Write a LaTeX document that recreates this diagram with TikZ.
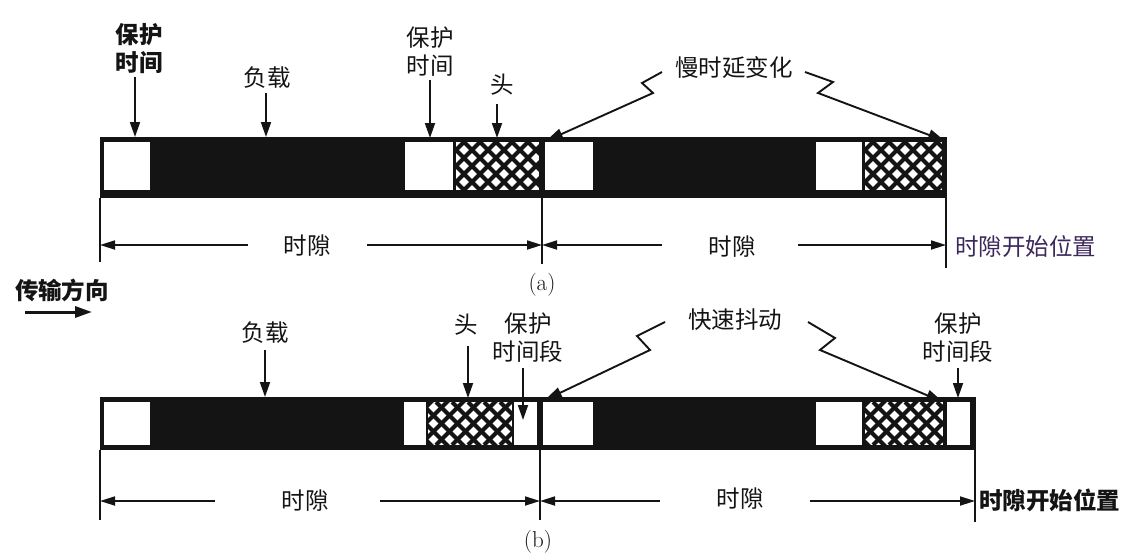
\documentclass[tikz,border=0pt]{standalone}
\usepackage{fontspec}
\newfontfamily\cjk{Noto Sans CJK SC}
\usetikzlibrary{arrows.meta}
\definecolor{ink}{RGB}{20,20,20}
\definecolor{purpink}{RGB}{60,40,90}
\newcommand\hatchbox[4]{%
  \begin{scope}
    \clip (#1,#2) rectangle (#3,#4);
    \fill[white] (#1,#2) rectangle (#3,#4);
    \foreach \k in {-72,-56,...,100} {
      \draw[ink,line width=4pt] ({#1+\k},#2) -- ++(70,70);
      \draw[ink,line width=4pt] ({#1+\k},#4) -- ++(70,-70);
    }
  \end{scope}}
\begin{document}
\begin{tikzpicture}[x=1pt,y=-1pt,
  lbl/.style={font=\cjk\fontsize{23.5}{28}\selectfont, align=center, inner sep=0pt, text=ink},
  lblb/.style={font=\cjk\bfseries\fontsize{23.5}{28}\selectfont, align=center, inner sep=0pt, text=ink},
  pa/.style={draw=ink, line width=1.8pt, -{Triangle[length=15pt,width=10pt]}},
  za/.style={draw=ink, line width=1.9pt, line join=miter, -{Triangle[length=17pt,width=11pt]}},
  dima/.style={draw=ink, line width=1.7pt, -{Triangle[length=15pt,width=9pt]}},
  vl/.style={draw=ink, line width=1.8pt},
  wbox/.style={fill=white},
  captxt/.style={font=\fontsize{23}{26}\selectfont, inner sep=0pt, text=ink}
]
\useasboundingbox (0,0) rectangle (1146,554);
\fill[white] (0,0) rectangle (1146,554);

% ---------------- (a) bar ----------------
\fill[ink] (100,137) rectangle (947,198);
\fill[wbox] (104,142) rectangle (150,190);
\fill[wbox] (405,142) rectangle (453,190);
\hatchbox{456}{142}{539}{190}
\fill[wbox] (545,142) rectangle (593,190);
\fill[wbox] (816,142) rectangle (862,190);
\hatchbox{865}{142}{942}{190}

% labels (a)
\node[lblb] (g1) at (139,49) {保护\\时间};
\coordinate (g1t) at (135,137);
\draw[pa] (g1.south -| g1t) ++(0,3) -- (g1t);
\node[lbl] (p1) at (267,78) {负载};
\coordinate (p1t) at (266,137);
\draw[pa] (p1.south -| p1t) ++(0,4) -- (p1t);
\node[lbl] (g2) at (430,52) {保护\\时间};
\coordinate (g2t) at (430,138);
\draw[pa] (g2.south -| g2t) ++(0,3) -- (g2t);
\node[lbl] (h1) at (502,85) {头};
\coordinate (h1t) at (497,138);
\draw[pa] (h1.south -| h1t) ++(0,8) -- (h1t);

\node[lbl] (sd) at (734,68) {慢时延变化};
\coordinate (sdl) at (662,72);
\coordinate (sdlt) at (546,141);
\coordinate (sdr) at (805,72);
\coordinate (sdrt) at (945,141);
\draw[za] (sdl) -- ++(-20,11) -- ++(11,10) -- (sdlt);
\draw[za] (sdr) -- ++(28,10) -- ++(-15,11) -- (sdrt);

% dimensions (a)
\coordinate (a0) at (100,245);
\coordinate (a1) at (542,245);
\coordinate (a2) at (946,245);
\draw[vl] (100,198) -- (100,262);
\draw[vl] (542,137) -- (542,264);
\draw[vl] (946,198) -- (946,268);
\node[lbl] (ta1) at (307,246) {时隙};
\node[lbl] (ta2) at (732,247) {时隙};
\draw[dima] (248,245) -- (a0);
\draw[dima] (367,245) -- (a1);
\draw[dima] (662,245) -- (a1);
\draw[dima] (798,245) -- (a2);
\node[lbl, anchor=west, text=purpink] (sa) at (955,247) {时隙开始位置};
\node[captxt] (capa) at (542,285) {(a)};

% transmission direction
\node[lblb] (dir) at (62,290) {传输方向};
\coordinate (dir1) at (25,312);
\coordinate (dir2) at (92,312);
\draw[draw=ink, line width=3pt, -{Triangle[length=17pt,width=11pt]}] (dir1) -- (dir2);

% ---------------- (b) bar ----------------
\fill[ink] (100,397) rectangle (976,450);
\fill[wbox] (104,402) rectangle (150,445);
\fill[wbox] (404,402) rectangle (426,445);
\hatchbox{428}{402}{512}{445}
\fill[wbox] (514,402) rectangle (537,445);
\fill[wbox] (543,402) rectangle (593,445);
\fill[wbox] (816,402) rectangle (862,445);
\hatchbox{865}{402}{943}{445}
\fill[wbox] (947,402) rectangle (970,445);

% labels (b)
\node[lbl] (p2) at (265,333) {负载};
\coordinate (p2t) at (265,397);
\draw[pa] (p2.south -| p2t) ++(0,6) -- (p2t);
\node[lbl] (h2) at (466,325) {头};
\coordinate (h2t) at (468,398);
\draw[pa] (h2.south -| h2t) ++(0,10) -- (h2t);
\node[lbl] (g3) at (528,338) {保护\\时间段};
\coordinate (g3t) at (523,420);
\draw[pa] (g3.south -| g3t) ++(0,5) -- (g3t);
\node[lbl] (g4) at (958,338) {保护\\时间段};
\coordinate (g4t) at (958,398);
\draw[pa] (g4.south -| g4t) ++(0,5) -- (g4t);

\node[lbl] (fj) at (735,320) {快速抖动};
\coordinate (fjl) at (665,322);
\coordinate (fjlt) at (545,400);
\coordinate (fjr) at (808,322);
\coordinate (fjrt) at (943,402);
\draw[za] (fjl) -- ++(-28,14) -- ++(13,14) -- (fjlt);
\draw[za] (fjr) -- ++(27,16) -- ++(-15,12) -- (fjrt);

% dimensions (b)
\coordinate (b0) at (100,501);
\coordinate (b1) at (540,501);
\coordinate (b2) at (975,501);
\draw[vl] (100,450) -- (100,520);
\draw[vl] (540,397) -- (540,520);
\draw[vl] (975,450) -- (975,522);
\node[lbl] (tb1) at (305,501) {时隙};
\node[lbl] (tb2) at (740,499) {时隙};
\draw[dima] (215,501) -- (b0);
\draw[dima] (380,501) -- (b1);
\draw[dima] (660,501) -- (b1);
\draw[dima] (810,501) -- (b2);
\node[lblb, anchor=west] (sb) at (979,500) {时隙开始位置};
\node[captxt] (capb) at (538,542) {(b)};
\end{tikzpicture}
\end{document}
